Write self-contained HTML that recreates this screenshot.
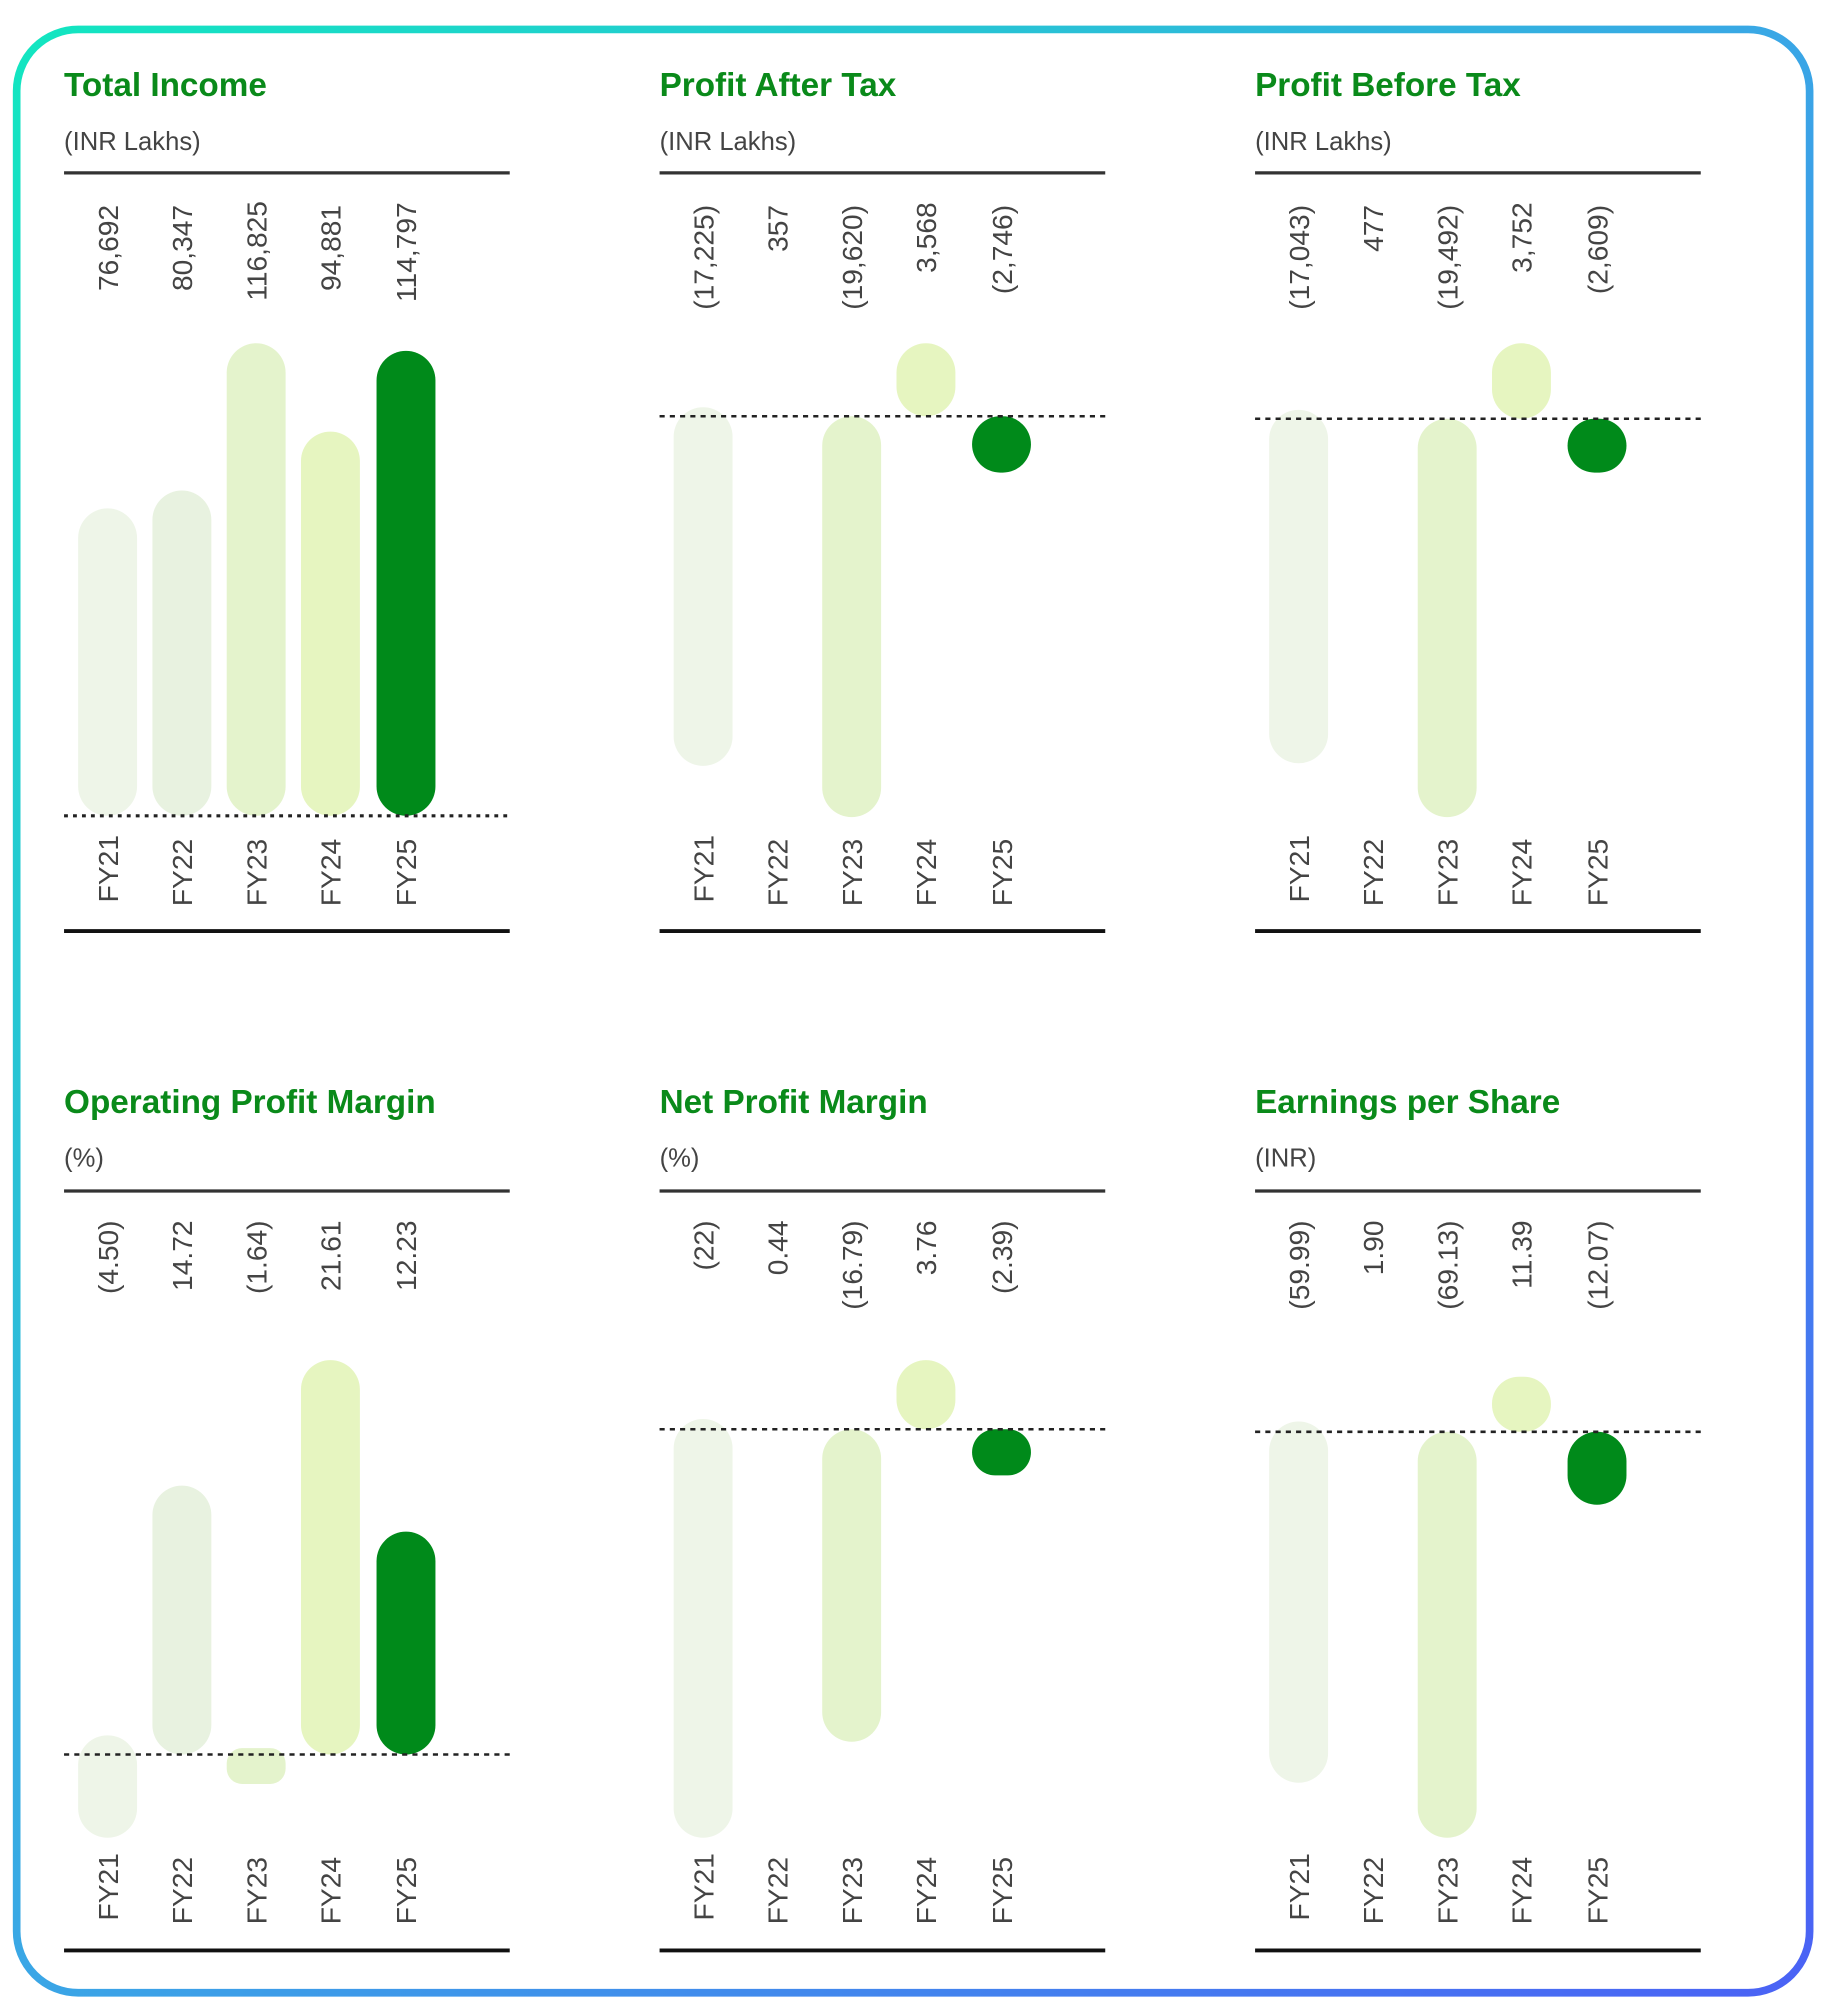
<!DOCTYPE html>
<html><head><meta charset="utf-8"><style>
html,body{margin:0;padding:0;background:#fff;}
svg{display:block;}
text{font-family:"Liberation Sans",sans-serif;}
.t{font-size:26px;font-weight:bold;fill:#0a8a1a;}
.s{font-size:20px;fill:#444;}
.v{font-size:22px;fill:#444;}
.c{font-size:22px;fill:#444;}
</style></head><body>
<svg width="1825" height="2004" viewBox="0 0 1425 1564.8" xmlns="http://www.w3.org/2000/svg">
<defs>
<linearGradient id="g" x1="0" y1="0" x2="1" y2="1">
<stop offset="0" stop-color="#12e6c0"/><stop offset="0.5" stop-color="#3aa6e6"/><stop offset="1" stop-color="#4a62f5"/>
</linearGradient>
</defs>
<rect x="13" y="23" width="1400" height="1533" rx="48" fill="#fff" stroke="url(#g)" stroke-width="6"/>

<g transform="translate(50,0)">
<text class="t" x="0" y="75">Total Income</text>
<text class="s" x="0" y="117">(INR Lakhs)</text>
<line x1="0" y1="135" x2="348" y2="135" stroke="#333" stroke-width="2.5"/>
<g class="v" text-anchor="end">
<text transform="translate(42,160) rotate(-90)">76,692</text>
<text transform="translate(100,160) rotate(-90)">80,347</text>
<text transform="translate(158,157) rotate(-90)">116,825</text>
<text transform="translate(216,160) rotate(-90)">94,881</text>
<text transform="translate(275,158) rotate(-90)">114,797</text>
</g>
<rect x="11" y="397" width="46" height="240" rx="23" fill="#eef5e8"/>
<rect x="69" y="383" width="46" height="254" rx="23" fill="#e8f2e0"/>
<rect x="127" y="268" width="46" height="369" rx="23" fill="#e4f3cc"/>
<rect x="185" y="337" width="46" height="300" rx="23" fill="#e6f5c0"/>
<rect x="244" y="274" width="46" height="363" rx="23" fill="#008a1a"/>
<line x1="0" y1="637" x2="348" y2="637" stroke="#222" stroke-width="2.5" stroke-dasharray="3 4"/>
<g class="c" text-anchor="end">
<text transform="translate(42,652) rotate(-90)">FY21</text>
<text transform="translate(100,655) rotate(-90)">FY22</text>
<text transform="translate(158,655) rotate(-90)">FY23</text>
<text transform="translate(216,655) rotate(-90)">FY24</text>
<text transform="translate(275,655) rotate(-90)">FY25</text>
</g>
<line x1="0" y1="727" x2="348" y2="727" stroke="#111" stroke-width="3"/>
</g>

<g transform="translate(515,0)">
<text class="t" x="0" y="75">Profit After Tax</text>
<text class="s" x="0" y="117">(INR Lakhs)</text>
<line x1="0" y1="135" x2="348" y2="135" stroke="#333" stroke-width="2.5"/>
<g class="v" text-anchor="end">
<text transform="translate(42,160) rotate(-90)">(17,225)</text>
<text transform="translate(100,160) rotate(-90)">357</text>
<text transform="translate(158,160) rotate(-90)">(19,620)</text>
<text transform="translate(216,158) rotate(-90)">3,568</text>
<text transform="translate(275,160) rotate(-90)">(2,746)</text>
</g>
<rect x="11" y="318" width="46" height="280" rx="23" fill="#eef5e8"/>
<rect x="127" y="325" width="46" height="313" rx="23" fill="#e4f3cc"/>
<rect x="185" y="268" width="46" height="57" rx="23" fill="#e6f5c0"/>
<rect x="244" y="325" width="46" height="44" rx="22" fill="#008a1a"/>
<line x1="0" y1="325" x2="348" y2="325" stroke="#222" stroke-width="2" stroke-dasharray="4 4"/>
<g class="c" text-anchor="end">
<text transform="translate(42,652) rotate(-90)">FY21</text>
<text transform="translate(100,655) rotate(-90)">FY22</text>
<text transform="translate(158,655) rotate(-90)">FY23</text>
<text transform="translate(216,655) rotate(-90)">FY24</text>
<text transform="translate(275,655) rotate(-90)">FY25</text>
</g>
<line x1="0" y1="727" x2="348" y2="727" stroke="#111" stroke-width="3"/>
</g>

<g transform="translate(980,0)">
<text class="t" x="0" y="75">Profit Before Tax</text>
<text class="s" x="0" y="117">(INR Lakhs)</text>
<line x1="0" y1="135" x2="348" y2="135" stroke="#333" stroke-width="2.5"/>
<g class="v" text-anchor="end">
<text transform="translate(42,160) rotate(-90)">(17,043)</text>
<text transform="translate(100,160) rotate(-90)">477</text>
<text transform="translate(158,160) rotate(-90)">(19,492)</text>
<text transform="translate(216,158) rotate(-90)">3,752</text>
<text transform="translate(275,160) rotate(-90)">(2,609)</text>
</g>
<rect x="11" y="320" width="46" height="276" rx="23" fill="#eef5e8"/>
<rect x="127" y="327" width="46" height="311" rx="23" fill="#e4f3cc"/>
<rect x="185" y="268" width="46" height="59" rx="23" fill="#e6f5c0"/>
<rect x="244" y="327" width="46" height="42" rx="21" fill="#008a1a"/>
<line x1="0" y1="327" x2="348" y2="327" stroke="#222" stroke-width="2" stroke-dasharray="4 4"/>
<g class="c" text-anchor="end">
<text transform="translate(42,652) rotate(-90)">FY21</text>
<text transform="translate(100,655) rotate(-90)">FY22</text>
<text transform="translate(158,655) rotate(-90)">FY23</text>
<text transform="translate(216,655) rotate(-90)">FY24</text>
<text transform="translate(275,655) rotate(-90)">FY25</text>
</g>
<line x1="0" y1="727" x2="348" y2="727" stroke="#111" stroke-width="3"/>
</g>

<g transform="translate(50,0)">
<text class="t" x="0" y="869">Operating Profit Margin</text>
<text class="s" x="0" y="911">(%)</text>
<line x1="0" y1="930" x2="348" y2="930" stroke="#333" stroke-width="2.5"/>
<g class="v" text-anchor="end">
<text transform="translate(42,953) rotate(-90)">(4.50)</text>
<text transform="translate(100,953) rotate(-90)">14.72</text>
<text transform="translate(158,953) rotate(-90)">(1.64)</text>
<text transform="translate(216,953) rotate(-90)">21.61</text>
<text transform="translate(275,953) rotate(-90)">12.23</text>
</g>
<rect x="11" y="1355" width="46" height="80" rx="23" fill="#eef5e8"/>
<rect x="69" y="1160" width="46" height="210" rx="23" fill="#e8f2e0"/>
<rect x="127" y="1365" width="46" height="28" rx="12" fill="#e4f3cc"/>
<rect x="185" y="1062" width="46" height="308" rx="23" fill="#e6f5c0"/>
<rect x="244" y="1196" width="46" height="174" rx="23" fill="#008a1a"/>
<line x1="0" y1="1370" x2="348" y2="1370" stroke="#222" stroke-width="2" stroke-dasharray="4 4"/>
<g class="c" text-anchor="end">
<text transform="translate(42,1447) rotate(-90)">FY21</text>
<text transform="translate(100,1450) rotate(-90)">FY22</text>
<text transform="translate(158,1450) rotate(-90)">FY23</text>
<text transform="translate(216,1450) rotate(-90)">FY24</text>
<text transform="translate(275,1450) rotate(-90)">FY25</text>
</g>
<line x1="0" y1="1523" x2="348" y2="1523" stroke="#111" stroke-width="3"/>
</g>

<g transform="translate(515,0)">
<text class="t" x="0" y="869">Net Profit Margin</text>
<text class="s" x="0" y="911">(%)</text>
<line x1="0" y1="930" x2="348" y2="930" stroke="#333" stroke-width="2.5"/>
<g class="v" text-anchor="end">
<text transform="translate(42,953) rotate(-90)">(22)</text>
<text transform="translate(100,953) rotate(-90)">0.44</text>
<text transform="translate(158,953) rotate(-90)">(16.79)</text>
<text transform="translate(216,953) rotate(-90)">3.76</text>
<text transform="translate(275,953) rotate(-90)">(2.39)</text>
</g>
<rect x="11" y="1108" width="46" height="327" rx="23" fill="#eef5e8"/>
<rect x="127" y="1116" width="46" height="244" rx="23" fill="#e4f3cc"/>
<rect x="185" y="1062" width="46" height="54" rx="23" fill="#e6f5c0"/>
<rect x="244" y="1116" width="46" height="36" rx="18" fill="#008a1a"/>
<line x1="0" y1="1116" x2="348" y2="1116" stroke="#222" stroke-width="2" stroke-dasharray="4 4"/>
<g class="c" text-anchor="end">
<text transform="translate(42,1447) rotate(-90)">FY21</text>
<text transform="translate(100,1450) rotate(-90)">FY22</text>
<text transform="translate(158,1450) rotate(-90)">FY23</text>
<text transform="translate(216,1450) rotate(-90)">FY24</text>
<text transform="translate(275,1450) rotate(-90)">FY25</text>
</g>
<line x1="0" y1="1523" x2="348" y2="1523" stroke="#111" stroke-width="3"/>
</g>

<g transform="translate(980,0)">
<text class="t" x="0" y="869">Earnings per Share</text>
<text class="s" x="0" y="911">(INR)</text>
<line x1="0" y1="930" x2="348" y2="930" stroke="#333" stroke-width="2.5"/>
<g class="v" text-anchor="end">
<text transform="translate(42,953) rotate(-90)">(59.99)</text>
<text transform="translate(100,953) rotate(-90)">1.90</text>
<text transform="translate(158,953) rotate(-90)">(69.13)</text>
<text transform="translate(216,953) rotate(-90)">11.39</text>
<text transform="translate(275,953) rotate(-90)">(12.07)</text>
</g>
<rect x="11" y="1110" width="46" height="282" rx="23" fill="#eef5e8"/>
<rect x="127" y="1118" width="46" height="317" rx="23" fill="#e4f3cc"/>
<rect x="185" y="1075" width="46" height="43" rx="21" fill="#e6f5c0"/>
<rect x="244" y="1118" width="46" height="57" rx="23" fill="#008a1a"/>
<line x1="0" y1="1118" x2="348" y2="1118" stroke="#222" stroke-width="2" stroke-dasharray="4 4"/>
<g class="c" text-anchor="end">
<text transform="translate(42,1447) rotate(-90)">FY21</text>
<text transform="translate(100,1450) rotate(-90)">FY22</text>
<text transform="translate(158,1450) rotate(-90)">FY23</text>
<text transform="translate(216,1450) rotate(-90)">FY24</text>
<text transform="translate(275,1450) rotate(-90)">FY25</text>
</g>
<line x1="0" y1="1523" x2="348" y2="1523" stroke="#111" stroke-width="3"/>
</g>
</svg>
</body></html>
